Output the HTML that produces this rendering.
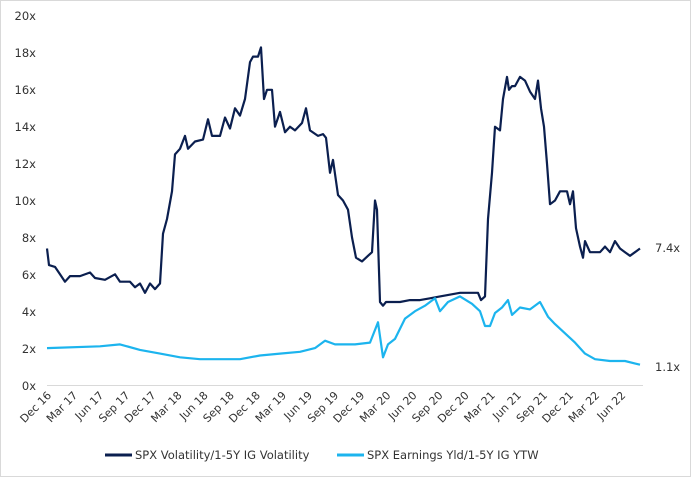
<!DOCTYPE html><html><head><style>
body{margin:0;background:#fff}
svg{display:block;font-family:"DejaVu Sans",Verdana,sans-serif;font-size:11.5px;fill:#333}
</style></head><body>
<svg id="s" width="691" height="477" xmlns="http://www.w3.org/2000/svg">
<rect x="0.5" y="0.5" width="690" height="476" fill="#fff" stroke="#d9d9d9"/>
<g text-anchor="end">
<text x="36" y="20">20x</text><text x="36" y="57">18x</text><text x="36" y="94">16x</text><text x="36" y="131">14x</text><text x="36" y="168">12x</text><text x="36" y="205">10x</text><text x="36" y="242">8x</text><text x="36" y="279">6x</text><text x="36" y="316">4x</text><text x="36" y="353">2x</text><text x="36" y="390">0x</text>
</g>
<line x1="47" y1="385.5" x2="643" y2="385.5" stroke="#d9d9d9"/>
<g id="xl" text-anchor="end" style="font-size:11px"></g>
<polyline id="a" fill="none" stroke="#0b1f4f" stroke-width="2.2" stroke-linejoin="round"/>
<polyline id="b" fill="none" stroke="#1cb4ee" stroke-width="2.2" stroke-linejoin="round"/>
<text x="655" y="252">7.4x</text><text x="655" y="371">1.1x</text>
<line x1="105" y1="455" x2="132" y2="455" stroke="#0b1f4f" stroke-width="3"/>
<text x="135" y="459">SPX Volatility/1-5Y IG Volatility</text>
<line x1="337" y1="455" x2="364" y2="455" stroke="#1cb4ee" stroke-width="3"/>
<text x="367" y="459">SPX Earnings Yld/1-5Y IG YTW</text>
</svg>
<script>
var A=[47,7.4,49,6.5,55,6.4,60,6.0,65,5.6,70,5.9,80,5.9,90,6.1,95,5.8,105,5.7,115,6.0,120,5.6,130,5.6,135,5.3,140,5.5,145,5.0,150,5.5,155,5.2,160,5.5,163,8.2,167,9,172,10.5,175,12.5,180,12.8,185,13.5,188,12.8,195,13.2,203,13.3,208,14.4,212,13.5,220,13.5,225,14.5,230,13.9,235,15.0,240,14.6,245,15.5,250,17.5,253,17.8,258,17.8,261,18.3,264,15.5,267,16.0,272,16.0,275,14.0,280,14.8,285,13.7,290,14.0,295,13.8,302,14.2,306,15.0,310,13.8,318,13.5,323,13.6,326,13.4,330,11.5,333,12.2,338,10.3,343,10.0,348,9.5,352,8.0,356,6.9,362,6.7,368,7.0,372,7.2,375,10.0,377,9.5,380,4.5,383,4.3,386,4.5,400,4.5,410,4.6,420,4.6,430,4.7,440,4.8,460,5.0,478,5.0,481,4.6,485,4.8,488,9.0,492,11.5,495,14.0,500,13.8,503,15.5,507,16.7,509,16.0,512,16.2,515,16.2,520,16.7,525,16.5,530,15.9,535,15.5,538,16.5,541,15.0,544,14.0,547,12.0,550,9.8,555,10.0,560,10.5,567,10.5,570,9.8,573,10.5,576,8.5,580,7.5,583,6.9,585,7.8,590,7.2,600,7.2,605,7.5,610,7.2,615,7.8,620,7.4,625,7.2,630,7.0,635,7.2,640,7.4];
var B=[47,2.0,100,2.1,120,2.2,140,1.9,160,1.7,180,1.5,200,1.4,240,1.4,260,1.6,280,1.7,300,1.8,315,2.0,325,2.4,335,2.2,355,2.2,370,2.3,378,3.4,383,1.5,388,2.2,395,2.5,405,3.6,415,4.0,425,4.3,435,4.7,440,4.0,448,4.5,460,4.8,472,4.4,480,4.0,485,3.2,490,3.2,495,3.9,502,4.2,508,4.6,512,3.8,520,4.2,530,4.1,540,4.5,548,3.7,555,3.3,565,2.8,575,2.3,585,1.7,595,1.4,610,1.3,625,1.3,640,1.1];
function p(d){var s=[];for(var i=0;i<d.length;i+=2)s.push(d[i]+","+(385-d[i+1]*18.45).toFixed(1));return s.join(" ");}
document.getElementById('a').setAttribute('points',p(A));
document.getElementById('b').setAttribute('points',p(B));
var L=["Dec 16","Mar 17","Jun 17","Sep 17","Dec 17","Mar 18","Jun 18","Sep 18","Dec 18","Mar 19","Jun 19","Sep 19","Dec 19","Mar 20","Jun 20","Sep 20","Dec 20","Mar 21","Jun 21","Sep 21","Dec 21","Mar 22","Jun 22"];
var g=document.getElementById('xl'),h="";
for(var i=0;i<L.length;i++){var x=52+i*26.1,y=396;h+='<text transform="translate('+x+','+y+') rotate(-45)">'+L[i]+'</text>';}
g.innerHTML=h;
</script>
</body></html>
